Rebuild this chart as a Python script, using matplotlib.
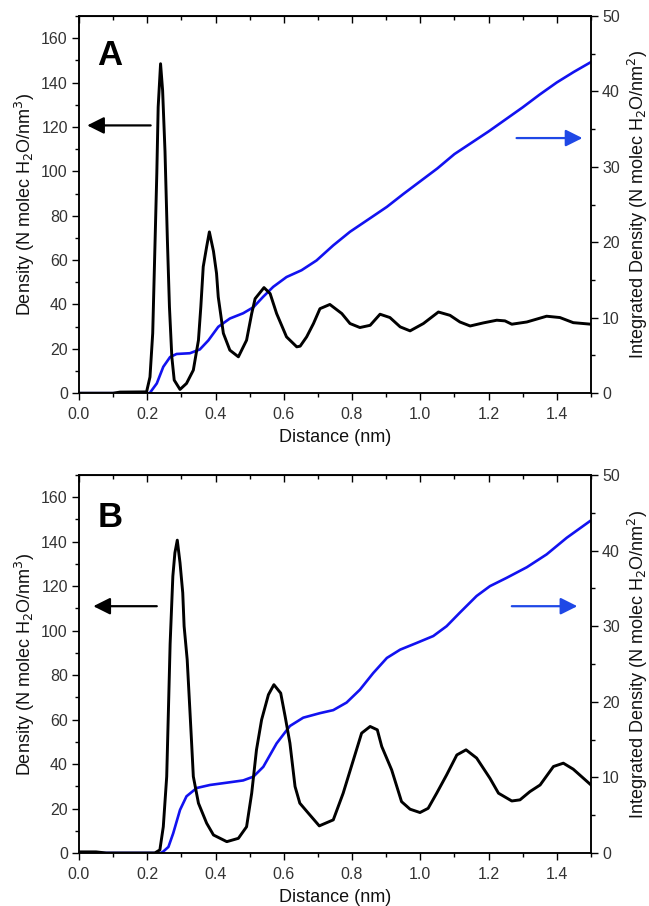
import matplotlib.pyplot as plt
from matplotlib.ticker import MultipleLocator

plt.rcParams['font.family'] = ['Liberation Sans', 'DejaVu Sans']

# ── Panel A data ──────────────────────────────────────────────────────────────
a_dens_x = [0.0, 0.10, 0.12, 0.198, 0.208, 0.216, 0.223, 0.228, 0.232, 0.239, 0.245,
            0.252, 0.259, 0.265, 0.272, 0.279, 0.296, 0.315, 0.335, 0.350, 0.357,
            0.364, 0.374, 0.382, 0.394, 0.403, 0.408, 0.423, 0.442, 0.467, 0.491,
            0.506, 0.516, 0.542, 0.560, 0.579, 0.608, 0.638, 0.648, 0.667, 0.687,
            0.706, 0.735, 0.770, 0.794, 0.823, 0.853, 0.882, 0.911, 0.941, 0.970,
            1.009, 1.053, 1.087, 1.116, 1.146, 1.185, 1.224, 1.248, 1.268, 1.312,
            1.370, 1.409, 1.448, 1.5]
a_dens_y = [0.0, 0.0, 0.5, 0.6, 7.3, 27, 69, 99, 129, 148.5, 136.5,
            109, 69, 39, 16.4, 5.9, 1.7, 4.4, 10.4, 23.9, 39,
            57, 66, 72.7, 64, 54, 43.4, 27, 19.4, 16.4, 23.9,
            35.9, 42.6, 47.6, 44.9, 35.9, 25.4, 20.9, 21.2, 25.4, 31.4,
            38.1, 40, 35.9, 31.4, 29.6, 30.6, 35.6, 34.1, 29.9, 28.1,
            31.4, 36.6, 35.1, 32.1, 30.3, 31.7, 32.9, 32.6, 31.1, 32.1,
            34.7, 34.1, 31.8, 31.1]

a_int_x = [0.0, 0.207, 0.228, 0.247, 0.267, 0.286, 0.325, 0.354, 0.379, 0.408,
           0.442, 0.481, 0.511, 0.540, 0.569, 0.608, 0.652, 0.696, 0.745, 0.794,
           0.853, 0.902, 0.95, 1.0, 1.05, 1.10, 1.15, 1.20, 1.25, 1.30, 1.35,
           1.40, 1.45, 1.5]
a_int_y = [0.0, 0.0, 1.3, 3.5, 4.8, 5.2, 5.3, 5.8, 7.0, 8.8,
           9.9, 10.6, 11.4, 12.8, 14.1, 15.4, 16.3, 17.6, 19.6, 21.4,
           23.2, 24.7, 26.4, 28.1, 29.8, 31.7, 33.2, 34.7, 36.3, 37.9, 39.6,
           41.2, 42.6, 43.9]

# ── Panel B data ──────────────────────────────────────────────────────────────
b_dens_x = [0.0, 0.05, 0.08, 0.222, 0.237, 0.247, 0.257, 0.262, 0.267, 0.275,
            0.281, 0.288, 0.296, 0.304, 0.308, 0.317, 0.325, 0.330, 0.335, 0.350,
            0.374, 0.394, 0.433, 0.467, 0.491, 0.506, 0.520, 0.535, 0.555, 0.571,
            0.591, 0.604, 0.618, 0.633, 0.647, 0.672, 0.704, 0.745, 0.774, 0.804,
            0.828, 0.853, 0.874, 0.887, 0.916, 0.945, 0.970, 0.999, 1.023, 1.048,
            1.077, 1.107, 1.134, 1.165, 1.204, 1.229, 1.268, 1.292, 1.321, 1.351,
            1.390, 1.419, 1.448, 1.478, 1.5]
b_dens_y = [0.5, 0.5, 0.0, 0.0, 1.4, 11.8, 34.4, 64, 94, 124.5,
            135, 140.7, 130.5, 117, 102, 87, 64, 49.4, 34.4, 22.4,
            13.4, 8.1, 5.1, 6.6, 11.8, 26.9, 46.4, 59.9, 71.2, 75.7,
            71.9, 61.4, 49.4, 29.9, 22.4, 17.9, 12.2, 14.9, 26.9, 41.9,
            53.9, 56.9, 55.4, 47.9, 37.4, 23.1, 19.7, 18.2, 20.1, 26.9,
            35.1, 44.1, 46.4, 42.7, 33.6, 26.9, 23.4, 23.9, 27.6, 30.6,
            38.9, 40.4, 37.7, 33.6, 30.6]

b_int_x = [0.0, 0.24, 0.247, 0.262, 0.276, 0.296, 0.315, 0.345, 0.384, 0.433,
           0.481, 0.511, 0.540, 0.579, 0.618, 0.657, 0.706, 0.745, 0.784, 0.823,
           0.862, 0.902, 0.941, 0.990, 1.038, 1.077, 1.116, 1.165, 1.204, 1.253,
           1.312, 1.370, 1.429, 1.5]
b_int_y = [0.0, 0.0, 0.2, 0.8, 2.6, 5.7, 7.5, 8.6, 9.0, 9.3,
           9.6, 10.1, 11.4, 14.5, 16.8, 17.9, 18.5, 18.9, 19.9, 21.6,
           23.8, 25.8, 26.9, 27.8, 28.7, 30.0, 31.8, 34.0, 35.3, 36.4,
           37.8, 39.5, 41.7, 44.0]

# arrows: (x start, x end, y in density units, colour)
a_arrows = [(0.21, 0.024, 120.7, 'black'), (1.282, 1.475, 115, '#1f48e6')]
b_arrows = [(0.228, 0.042, 111, 'black'), (1.268, 1.46, 111, '#1f48e6')]

BLUE = '#1212f0'
TICK_COL = '#333333'


def draw_panel(fig, rect, dens_x, dens_y, int_x, int_y, arrows, letter, letter_y):
    ax = fig.add_axes(rect)
    ax2 = ax.twinx()

    ax.plot(dens_x, dens_y, color='black', linewidth=2.1, zorder=3,
            solid_joinstyle='round')
    ax2.plot(int_x, int_y, color=BLUE, linewidth=1.9, zorder=2,
             solid_joinstyle='round')

    ax.set_xlim(0, 1.5)
    ax.set_ylim(0, 170)
    ax2.set_ylim(0, 50)

    ax.xaxis.set_major_locator(MultipleLocator(0.2))
    ax.xaxis.set_minor_locator(MultipleLocator(0.1))
    ax.yaxis.set_major_locator(MultipleLocator(20))
    ax.yaxis.set_minor_locator(MultipleLocator(10))
    ax2.yaxis.set_major_locator(MultipleLocator(10))
    ax2.yaxis.set_minor_locator(MultipleLocator(5))
    ax.xaxis.set_major_formatter(lambda v, p: f"{v:.1f}")

    for a in (ax, ax2):
        a.tick_params(which='major', length=5, width=1, labelsize=11.5,
                      labelcolor=TICK_COL, pad=3)
        a.tick_params(which='minor', length=3, width=1)
        for s in a.spines.values():
            s.set_linewidth(1.1)
    ax.tick_params(axis='x', which='major', pad=5)

    top = ax.secondary_xaxis('top')
    top.xaxis.set_major_locator(MultipleLocator(0.2))
    top.xaxis.set_minor_locator(MultipleLocator(0.1))
    top.tick_params(which='both', direction='in', labeltop=False)
    top.tick_params(which='major', length=5, width=1)
    top.tick_params(which='minor', length=3, width=1)

    ax.set_xlabel('Distance (nm)', fontsize=13, labelpad=5, color='#111111')
    ax.set_ylabel('Density (N molec H$_2$O/nm$^3$)', fontsize=13, labelpad=3,
                  color='#111111')
    ax2.set_ylabel('Integrated Density (N molec H$_2$O/nm$^2$)', fontsize=13,
                   labelpad=4, color='#111111')

    for x0, x1, y, c in arrows:
        ax.annotate('', xy=(x1, y), xytext=(x0, y),
                    arrowprops=dict(arrowstyle='-|>,head_length=0.6,head_width=0.3',
                                    color=c, lw=1.6, mutation_scale=17,
                                    shrinkA=0, shrinkB=0), zorder=5)

    ax.text(0.09, letter_y, letter, fontsize=25, fontweight='bold',
            ha='center', va='center')
    ax.set_zorder(ax2.get_zorder() + 1)
    ax.patch.set_visible(False)


fig = plt.figure(figsize=(6.49, 9.06), dpi=100)
draw_panel(fig, [0.1217, 0.566, 0.7889, 0.4163], a_dens_x, a_dens_y,
           a_int_x, a_int_y, a_arrows, 'A', 152)
draw_panel(fig, [0.1217, 0.0585, 0.7889, 0.4172], b_dens_x, b_dens_y,
           b_int_x, b_int_y, b_arrows, 'B', 151)

fig.savefig('out.png', dpi=100)
